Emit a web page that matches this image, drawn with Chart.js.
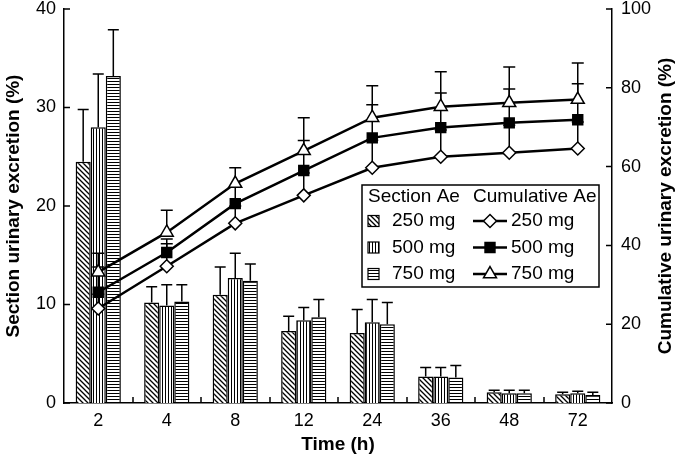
<!DOCTYPE html>
<html>
<head>
<meta charset="utf-8">
<script src="https://cdn.jsdelivr.net/npm/chart.js@4.4.1/dist/chart.umd.min.js"></script>
<style>
html, body { margin: 0; padding: 0; background: #fff; }
#wrap { width: 680px; height: 460px; }
</style>
</head>
<body>
<div id="wrap"><canvas id="chart"></canvas></div>
<script>
var timeLabels = ['2', '4', '8', '12', '24', '36', '48', '72'];

// section Ae (left axis, %)
var section250 = [24.5, 10.2, 11.0, 7.3, 7.1, 2.7, 1.1, 0.9];
var section500 = [28.0, 9.9, 12.7, 8.4, 8.2, 2.7, 1.0, 1.0];
var section750 = [33.2, 10.3, 12.4, 8.7, 8.0, 2.6, 1.0, 0.8];
var section250Err = [29.8, 11.8, 13.8, 8.8, 9.5, 3.6, 1.3, 1.1];
var section500Err = [33.4, 12.0, 15.2, 9.7, 10.5, 3.6, 1.3, 1.2];
var section750Err = [37.9, 12.0, 14.1, 10.5, 10.2, 3.8, 1.3, 1.1];

// cumulative Ae (right axis, %)
var cumul250 = [24.0, 34.7, 45.6, 52.7, 59.7, 62.5, 63.5, 64.6];
var cumul500 = [28.1, 38.2, 50.6, 59.0, 67.3, 69.9, 71.1, 71.9];
var cumul750 = [33.2, 43.3, 55.7, 64.0, 72.4, 75.2, 76.2, 77.0];
var cumul250Err = [27.6, 40.4, 50.0, 58.4, 66.7, 69.3, 70.5, 71.3];
var cumul500Err = [34.5, 41.6, 55.0, 66.6, 75.7, 78.7, 79.7, 81.0];
var cumul750Err = [38.0, 48.9, 59.7, 72.4, 80.5, 84.1, 85.3, 86.3];

var FONT = '"Liberation Sans", Arial, sans-serif';
Chart.defaults.font.family = FONT;
Chart.defaults.color = '#000';

function makePattern(kind) {
    var s = kind === 'diag' ? 5 : 3;
    var c = document.createElement('canvas');
    c.width = s; c.height = s;
    var g = c.getContext('2d');
    g.fillStyle = '#fff';
    g.fillRect(0, 0, s, s);
    g.strokeStyle = '#000';
    g.lineWidth = kind === 'diag' ? 1.3 : 1;
    g.beginPath();
    if (kind === 'diag') {
        g.moveTo(-1, -1); g.lineTo(s + 1, s + 1);
        g.moveTo(-1, s - 1); g.lineTo(1, s + 1);
        g.moveTo(s - 1, -1); g.lineTo(s + 1, 1);
    } else if (kind === 'vert') {
        g.moveTo(0.5, 0); g.lineTo(0.5, s);
    } else {
        g.moveTo(0, 0.5); g.lineTo(s, 0.5);
    }
    g.stroke();
    return g.createPattern(c, 'repeat');
}

var patDiag = makePattern('diag');
var patVert = makePattern('vert');
var patHorz = makePattern('horz');

function drawErr(ctx, x, y0, y1, cap) {
    ctx.beginPath();
    ctx.moveTo(x, y0); ctx.lineTo(x, y1);
    ctx.moveTo(x - cap, y1); ctx.lineTo(x + cap, y1);
    ctx.stroke();
}

var errorBars = {
    id: 'errorBars',
    beforeDatasetDraw: function (chart, args) {
        // all line error bars go under the line markers
        if (args.index !== 5) return;
        var ctx = chart.ctx, ys = chart.scales.y1;
        ctx.save();
        ctx.strokeStyle = '#000';
        ctx.lineWidth = 1.5;
        [3, 4, 5].forEach(function (i) {
            var ds = chart.data.datasets[i];
            chart.getDatasetMeta(i).data.forEach(function (pt, j) {
                drawErr(ctx, pt.x, pt.y, ys.getPixelForValue(ds.errTop[j]), 6);
            });
        });
        ctx.restore();
    },
    afterDatasetDraw: function (chart, args) {
        if (args.index > 2) return;
        var ctx = chart.ctx, ys = chart.scales.y;
        var ds = chart.data.datasets[args.index];
        ctx.save();
        ctx.strokeStyle = '#000';
        ctx.lineWidth = 1.5;
        args.meta.data.forEach(function (bar, j) {
            drawErr(ctx, bar.x, bar.y, ys.getPixelForValue(ds.errTop[j]), 5.5);
        });
        ctx.restore();
    }
};

var decorations = {
    id: 'decorations',
    afterDraw: function (chart) {
        var ctx = chart.ctx, a = chart.chartArea;
        var x = chart.scales.x, y = chart.scales.y, y1 = chart.scales.y1;
        ctx.save();
        ctx.strokeStyle = '#000';
        ctx.lineWidth = 1.5;
        ctx.beginPath();
        y.ticks.forEach(function (t) {
            var p = y.getPixelForValue(t.value);
            ctx.moveTo(a.left, p); ctx.lineTo(a.left + 6, p);
        });
        y1.ticks.forEach(function (t) {
            var p = y1.getPixelForValue(t.value);
            ctx.moveTo(a.right, p); ctx.lineTo(a.right - 6, p);
        });
        var half = (x.getPixelForValue(1) - x.getPixelForValue(0)) / 2;
        for (var i = 1; i < timeLabels.length; i++) {
            var px = Math.round(x.getPixelForValue(i) - half);
            ctx.moveTo(px, a.bottom); ctx.lineTo(px, a.bottom - 6);
        }
        ctx.stroke();

        // right axis title, reading upward
        ctx.fillStyle = '#000';
        ctx.font = 'bold 19px ' + FONT;
        ctx.textAlign = 'center';
        ctx.textBaseline = 'middle';
        ctx.translate(666, (a.top + a.bottom) / 2);
        ctx.rotate(-Math.PI / 2);
        ctx.fillText('Cumulative urinary excretion (%)', 0, 0);
        ctx.restore();

        // legend box
        var L = a.right - 250, T = a.top + 176;
        ctx.save();
        ctx.fillStyle = '#fff';
        ctx.fillRect(L, T, 237, 102);
        ctx.strokeStyle = '#000';
        ctx.lineWidth = 1.5;
        ctx.strokeRect(L, T, 237, 102);
        ctx.fillStyle = '#000';
        ctx.font = '19px ' + FONT;
        ctx.textBaseline = 'middle';
        ctx.textAlign = 'left';
        ctx.fillText('Section Ae', L + 6, T + 12);
        ctx.fillText('Cumulative Ae', L + 111, T + 12);
        var rows = [
            { pat: patDiag, label: '250 mg', style: 'rectRot', r: 6.5, fill: '#fff' },
            { pat: patVert, label: '500 mg', style: 'rect', r: 7, fill: '#000' },
            { pat: patHorz, label: '750 mg', style: 'triangle', r: 7.5, fill: '#fff' }
        ];
        rows.forEach(function (row, k) {
            var ry = T + 36 + k * 26.5;
            ctx.fillStyle = row.pat;
            ctx.fillRect(L + 6, ry - 5.5, 11, 11);
            ctx.lineWidth = 1.2;
            ctx.strokeRect(L + 6, ry - 5.5, 11, 11);
            ctx.fillStyle = '#000';
            ctx.fillText(row.label, L + 30, ry);
            ctx.lineWidth = 2.5;
            ctx.beginPath();
            ctx.moveTo(L + 111, ry); ctx.lineTo(L + 145, ry);
            ctx.stroke();
            ctx.lineWidth = 1.5;
            ctx.fillStyle = row.fill;
            Chart.helpers.drawPoint(ctx, { pointStyle: row.style, radius: row.r, rotation: 0, borderWidth: 1.5 }, L + 128, ry);
            ctx.fillStyle = '#000';
            ctx.fillText(row.label, L + 149, ry);
        });
        ctx.restore();
    }
};

function barSet(label, data, err, pat) {
    return {
        type: 'bar', label: label, data: data, errTop: err, yAxisID: 'y',
        backgroundColor: pat, borderColor: '#000', borderWidth: 1.5, order: 4
    };
}

function lineSet(label, data, err, style, r, fill, ord) {
    return {
        type: 'line', label: label, data: data, errTop: err, yAxisID: 'y1',
        borderColor: '#000', borderWidth: 2.5, pointStyle: style, pointRadius: r,
        pointBackgroundColor: fill, pointBorderColor: '#000', pointBorderWidth: 1.5,
        fill: false, tension: 0, order: ord
    };
}

function noPad(s) { s.paddingTop = 0; s.paddingBottom = 0; }

var ctx = document.getElementById('chart').getContext('2d');
var chart = new Chart(ctx, {
    type: 'bar',
    data: {
        labels: timeLabels,
        datasets: [
            barSet('Section 250 mg', section250, section250Err, patDiag),
            barSet('Section 500 mg', section500, section500Err, patVert),
            barSet('Section 750 mg', section750, section750Err, patHorz),
            lineSet('Cumulative 250 mg', cumul250, cumul250Err, 'rectRot', 6.5, '#fff', 1),
            lineSet('Cumulative 500 mg', cumul500, cumul500Err, 'rect', 7, '#000', 2),
            lineSet('Cumulative 750 mg', cumul750, cumul750Err, 'triangle', 7.5, '#fff', 3)
        ]
    },
    options: {
        responsive: true,
        maintainAspectRatio: false,
        animation: false,
        layout: { padding: { top: 8, right: 0, left: 0, bottom: 0 } },
        categoryPercentage: 0.66,
        barPercentage: 1.0,
        plugins: { legend: { display: false }, tooltip: { enabled: false } },
        scales: {
            x: {
                offset: true,
                grid: { display: false, drawTicks: false },
                border: { display: true, color: '#000', width: 1.5 },
                ticks: { font: { size: 18 }, padding: 7, color: '#000', maxRotation: 0 },
                title: { display: true, text: 'Time (h)', font: { size: 19, weight: 'bold' }, color: '#000', padding: { top: 4, bottom: 4 } },
                afterFit: function (s) { s.height = 57; s.paddingLeft = 0; s.paddingRight = 0; }
            },
            y: {
                position: 'left', min: 0, max: 40,
                grid: { display: false, drawTicks: false },
                border: { display: true, color: '#000', width: 1.5 },
                ticks: { stepSize: 10, font: { size: 18 }, padding: 8, color: '#000' },
                title: { display: true, text: 'Section urinary excretion (%)', font: { size: 19, weight: 'bold' }, color: '#000', padding: { top: 2, bottom: 2 } },
                afterFit: function (s) { s.width = 64; noPad(s); }
            },
            y1: {
                position: 'right', min: 0, max: 100,
                grid: { display: false, drawTicks: false },
                border: { display: true, color: '#000', width: 1.5 },
                ticks: { stepSize: 20, font: { size: 18 }, padding: 9, color: '#000' },
                afterFit: function (s) { s.width = 68; noPad(s); }
            }
        }
    },
    plugins: [errorBars, decorations]
});
</script>
</body>
</html>
